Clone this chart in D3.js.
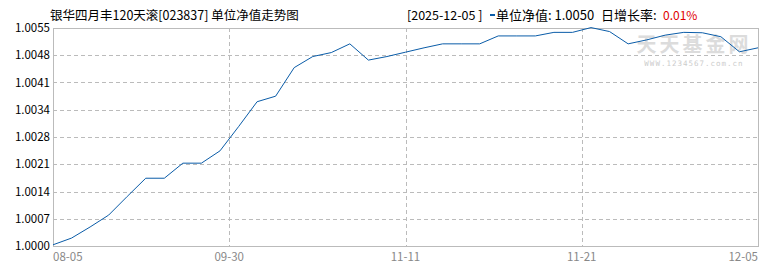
<!DOCTYPE html>
<html>
<head>
<meta charset="utf-8">
<script src="https://cdn.jsdelivr.net/npm/d3@7"></script>
<style>
  body { margin: 0; background: #fff; }
  svg { display: block; font-family: "Noto Sans CJK SC", "DejaVu Sans", sans-serif; }
</style>
</head>
<body>
<svg id="chart" width="770" height="270"></svg>
<script>
// unit NAV, one value per published point
const navValues = [
  1.00003, 1.00020, 1.00048, 1.00078, 1.00125, 1.00171, 1.00171, 1.00209, 1.00209, 1.00240,
  1.00301, 1.00364, 1.00378, 1.00450, 1.00478, 1.00488, 1.00510, 1.00469, 1.00478, 1.00489,
  1.00500, 1.00510, 1.00510, 1.00510, 1.00530, 1.00530, 1.00530, 1.00539, 1.00539, 1.00551,
  1.00541, 1.00510, 1.00520, 1.00532, 1.00539, 1.00538, 1.00528, 1.00490, 1.00500
];
const xTickLabels = ["08-05", "09-30", "11-11", "11-21", "12-05"];
const yTickLabels = ["1.0000", "1.0007", "1.0014", "1.0021", "1.0028", "1.0034", "1.0041", "1.0048", "1.0055"];
const yMin = 1.0000, yMax = 1.0055;
const titleText = "银华四月丰120天滚[023837] 单位净值走势图";
const lastDate = "[2025-12-05 ]";
const lastNav = "1.0050";
const lastRate = "0.01%";

const svg = d3.select("#chart");
const plotLeft = 53, plotRight = 758, plotTop = 28, plotBottom = 246;

const n = navValues.length - 1;
const x = d3.scaleLinear().domain([0, n]).range([plotLeft, plotRight]);
const y = d3.scaleLinear().domain([yMin, yMax]).range([plotBottom, plotTop]);

const yTicks = yTickLabels.map((_, i) => yMin + (yMax - yMin) * i / (yTickLabels.length - 1));
const xTicks = xTickLabels.map((_, i) => n * i / (xTickLabels.length - 1));

// horizontal grid
svg.append("g")
  .selectAll("line")
  .data(yTicks.slice(1, -1))
  .join("line")
  .attr("x1", plotLeft).attr("x2", plotRight)
  .attr("y1", d => Math.round(y(d)) + 0.5).attr("y2", d => Math.round(y(d)) + 0.5)
  .attr("stroke", "#bbb").attr("stroke-dasharray", "4,3");

// vertical grid
svg.append("g")
  .selectAll("line")
  .data(xTicks.slice(1, -1))
  .join("line")
  .attr("x1", d => Math.round(x(d)) + 0.5).attr("x2", d => Math.round(x(d)) + 0.5)
  .attr("y1", plotTop).attr("y2", plotBottom)
  .attr("stroke", "#bbb").attr("stroke-dasharray", "4,3");

// frame
svg.append("rect")
  .attr("x", plotLeft + 0.5).attr("y", plotTop + 0.5)
  .attr("width", plotRight - plotLeft).attr("height", plotBottom - plotTop)
  .attr("fill", "none").attr("stroke", "#bbb");

// watermark
svg.append("text")
  .attr("x", 694).attr("y", 52)
  .attr("text-anchor", "middle")
  .attr("font-size", 20).attr("font-weight", "bold")
  .attr("fill", "#dcdcdc")
  .attr("letter-spacing", 3)
  .text("天天基金网");
svg.append("text")
  .attr("x", 694).attr("y", 66)
  .attr("text-anchor", "middle")
  .attr("font-size", 7.5).attr("font-family", "DejaVu Sans Mono, monospace")
  .attr("fill", "#cccccc")
  .attr("letter-spacing", 1)
  .text("WWW.1234567.com.cn");

// y labels
svg.append("g")
  .selectAll("text")
  .data(yTicks)
  .join("text")
  .attr("x", 50)
  .attr("y", d => y(d))
  .attr("dy", "0.35em")
  .attr("text-anchor", "end")
  .attr("font-size", 11.5)
  .attr("fill", "#000")
  .text((d, i) => yTickLabels[i]);

// x labels
svg.append("g")
  .selectAll("text")
  .data(xTicks)
  .join("text")
  .attr("x", d => x(d))
  .attr("y", 261)
  .attr("text-anchor", (d, i) => i === 0 ? "start" : (i === xTicks.length - 1 ? "end" : "middle"))
  .attr("font-size", 11.5)
  .attr("fill", "#888")
  .text((d, i) => xTickLabels[i]);

// line
const line = d3.line()
  .x((d, i) => x(i))
  .y(d => y(d));
svg.append("path")
  .datum(navValues)
  .attr("d", line)
  .attr("fill", "none")
  .attr("stroke", "#0a5ca8")
  .attr("stroke-width", 1);

// title and legend
svg.append("text")
  .attr("x", 50).attr("y", 20)
  .attr("font-size", 12.5)
  .attr("fill", "#000")
  .text(titleText);

svg.append("text")
  .attr("x", 407).attr("y", 20)
  .attr("font-size", 12.5)
  .attr("fill", "#000")
  .text(lastDate);

svg.append("rect")
  .attr("x", 490).attr("y", 14)
  .attr("width", 5).attr("height", 2)
  .attr("fill", "#0a5ca8");

svg.append("text")
  .attr("x", 496).attr("y", 20)
  .attr("font-size", 13)
  .attr("fill", "#000")
  .text("单位净值: " + lastNav);

svg.append("text")
  .attr("x", 601).attr("y", 20)
  .attr("font-size", 13)
  .attr("fill", "#000")
  .text("日增长率:");

svg.append("text")
  .attr("x", 663).attr("y", 20)
  .attr("font-size", 12)
  .attr("fill", "#e00000")
  .text(lastRate);
</script>
</body>
</html>
